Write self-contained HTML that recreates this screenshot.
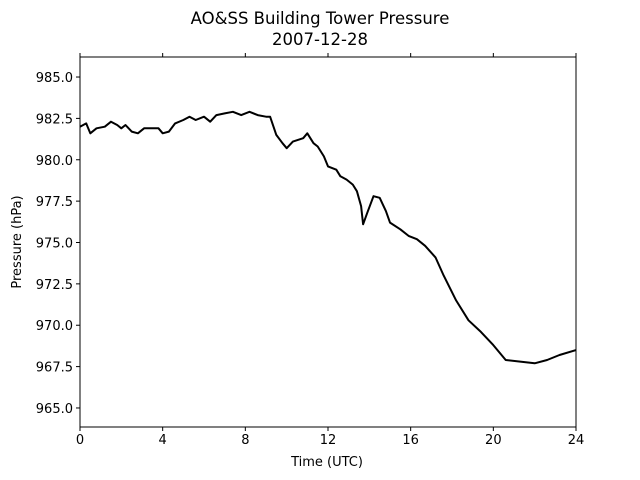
<!DOCTYPE html>
<html><head><meta charset="utf-8"><style>
body{margin:0;background:#fff;}
svg{display:block;font-family:"DejaVu Sans","Liberation Sans",sans-serif;}
</style></head><body>
<svg id="chart" width="640" height="480">
<text x="320" y="24" text-anchor="middle" font-size="16.5">AO&amp;SS Building Tower Pressure</text>
<text x="320" y="45" text-anchor="middle" font-size="16.5">2007-12-28</text>
<g id="ticks"></g>
<path id="line" fill="none" stroke="#000" stroke-width="2" stroke-linejoin="round"></path>
<rect x="80" y="57" width="496" height="370" fill="none" stroke="#000" stroke-width="1"></rect>
<text x="327" y="466" text-anchor="middle" font-size="13">Time (UTC)</text>
<text transform="translate(21,242) rotate(-90)" text-anchor="middle" font-size="13">Pressure (hPa)</text>
</svg>
<script>
const hours=[0,0.3,0.5,0.8,1.2,1.5,1.8,2.0,2.2,2.5,2.8,3.1,3.5,3.8,4.0,4.3,4.6,5.0,5.3,5.6,6.0,6.3,6.6,7.0,7.4,7.8,8.2,8.6,9.0,9.2,9.5,9.8,10.0,10.3,10.8,11.0,11.3,11.5,11.8,12.0,12.4,12.6,12.9,13.2,13.4,13.6,13.7,13.9,14.2,14.5,14.8,15.0,15.5,15.9,16.3,16.7,17.2,17.6,18.2,18.8,19.4,20.0,20.6,21.3,22.0,22.6,23.2,24.0];
const pressure=[982.0,982.2,981.6,981.9,982.0,982.3,982.1,981.9,982.1,981.7,981.6,981.9,981.9,981.9,981.6,981.7,982.2,982.4,982.6,982.4,982.6,982.3,982.7,982.8,982.9,982.7,982.9,982.7,982.6,982.6,981.5,981.0,980.7,981.1,981.3,981.6,981.0,980.8,980.2,979.6,979.4,979.0,978.8,978.5,978.1,977.2,976.1,976.8,977.8,977.7,976.9,976.2,975.8,975.4,975.2,974.8,974.1,973.0,971.5,970.3,969.6,968.8,967.9,967.8,967.7,967.9,968.2,968.5];
const xTicks=[0,4,8,12,16,20,24];
const yTicks=[965.0,967.5,970.0,972.5,975.0,977.5,980.0,982.5,985.0];
const X0=80,X1=576,Y0=427,Y1=57,xMin=0,xMax=24,yMin=963.85,yMax=986.21;
function xs(v){return X0+(v-xMin)/(xMax-xMin)*(X1-X0);}
function ys(v){return Y0-(v-yMin)/(yMax-yMin)*(Y0-Y1);}
const line=document.getElementById('line');
line.setAttribute('d',hours.map((h,i)=>(i?'L':'M')+xs(h).toFixed(1)+','+ys(pressure[i]).toFixed(1)).join(''));
const g=document.getElementById('ticks');const NS='http://www.w3.org/2000/svg';
xTicks.forEach(t=>{const x=xs(t);
 [[Y0,Y0+4],[Y1,Y1-4]].forEach(p=>{const l=document.createElementNS(NS,'line');l.setAttribute('x1',x);l.setAttribute('x2',x);l.setAttribute('y1',p[0]);l.setAttribute('y2',p[1]);l.setAttribute('stroke','#000');
 
 
 g.appendChild(l);});
 const tx=document.createElementNS(NS,'text');tx.setAttribute('x',x);tx.setAttribute('y',444);tx.setAttribute('text-anchor','middle');tx.setAttribute('font-size','13');tx.textContent=t;
 
 
 g.appendChild(tx);});
yTicks.forEach(t=>{const y=ys(t);
 const l=document.createElementNS(NS,'line');l.setAttribute('x1',X0-4);l.setAttribute('x2',X0);l.setAttribute('y1',y);l.setAttribute('y2',y);l.setAttribute('stroke','#000');
 
 
 g.appendChild(l);
 const tx=document.createElementNS(NS,'text');tx.setAttribute('x',X0-7);tx.setAttribute('y',y+5);tx.setAttribute('text-anchor','end');tx.setAttribute('font-size','13');tx.textContent=t.toFixed(1);
 
 
 g.appendChild(tx);});
</script>
</body></html>
